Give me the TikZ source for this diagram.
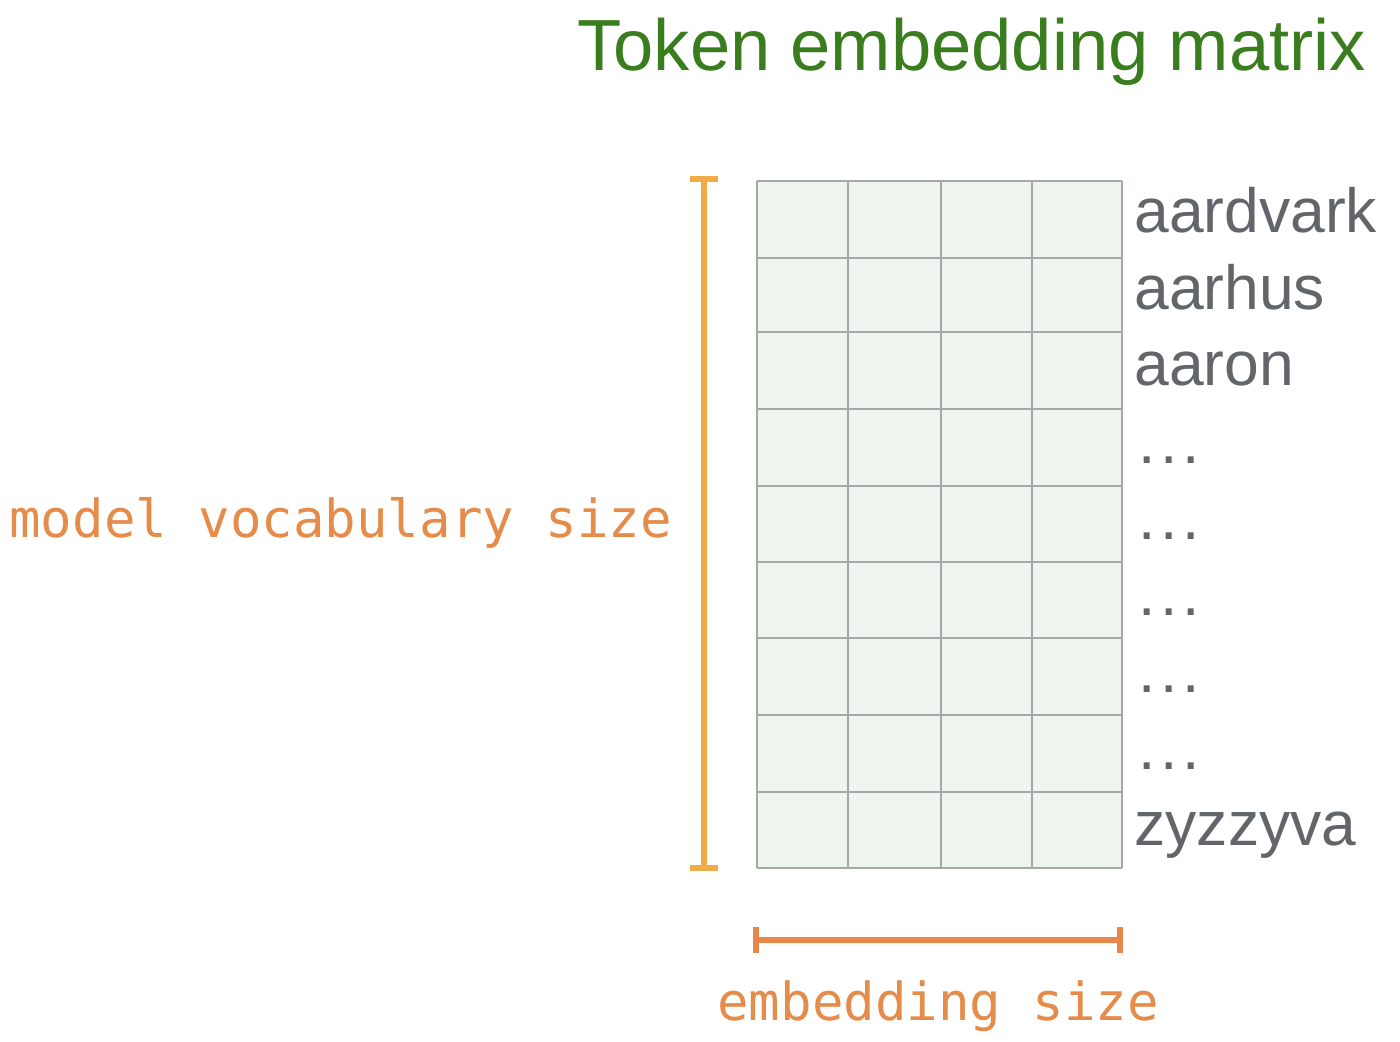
\documentclass[tikz,border=0pt]{standalone}
\usepackage{fontspec}
\setmainfont{Liberation Sans}
\newfontfamily\monofont{DejaVu Sans Mono}
\definecolor{titlegreen}{RGB}{58,125,30}
\definecolor{wordgrey}{RGB}{98,102,107}
\definecolor{gridline}{RGB}{165,168,165}
\definecolor{cellfill}{RGB}{237,245,238}
\definecolor{vbar}{RGB}{240,172,70}
\definecolor{hbar}{RGB}{234,135,72}
\definecolor{labelorange}{RGB}{230,140,75}
\newcommand{\rowdots}{.\hspace{2.4pt}.\hspace{2.4pt}.}
\begin{document}
\begin{tikzpicture}[x=0.5pt,y=-0.5pt,
  title/.style={inner sep=0pt,anchor=base west,text=titlegreen,font=\fontsize{36.2}{40}\selectfont},
  word/.style={inner sep=0pt,anchor=base west,text=wordgrey,font=\fontsize{31.2}{36}\selectfont},
  dimlabel/.style={inner sep=0pt,anchor=base west,text=labelorange,font=\monofont\fontsize{26.2}{30}\selectfont},
  bracketv/.style={draw=vbar,line width=2.6pt},
  bracketh/.style={draw=hbar,line width=2.6pt},
  gridln/.style={draw=gridline,line width=1pt}]
\useasboundingbox (0,0) rectangle (1400,1041);
% title
\node[title] (ttl) at (577,70) {Token embedding matrix};
% grid
\fill[cellfill] (757,181) rectangle (1122,868);
\foreach \xx in {757,848,941,1032,1122} \draw[gridln] (\xx,181) -- (\xx,868);
\foreach \yy in {181,258,332,409,486,562,638,715,792,868} \draw[gridln] (757,\yy) -- (1122,\yy);
% row labels
\node[word] (w1) at (1134,232) {aardvark};
\node[word] (w2) at (1134,309) {aarhus};
\node[word] (w3) at (1134,385) {aaron};
\node[word] (d1) at (1138,463) {\rowdots};
\node[word] (d2) at (1138,539) {\rowdots};
\node[word] (d3) at (1138,615) {\rowdots};
\node[word] (d4) at (1138,692) {\rowdots};
\node[word] (d5) at (1138,769) {\rowdots};
\node[word] (wz) at (1134,845) {zyzzyva};
% vertical bracket
\coordinate (vt) at (704,179);
\coordinate (vb) at (704,868);
\draw[bracketv] (vt) -- (vb);
\draw[bracketv] ([xshift=-7pt]vt) -- ([xshift=7pt]vt);
\draw[bracketv] ([xshift=-7pt]vb) -- ([xshift=7pt]vb);
% horizontal bracket
\coordinate (hl) at (756,940);
\coordinate (hr) at (1120,940);
\draw[bracketh] (hl) -- (hr);
\draw[bracketh] ([yshift=-6.3pt]hl) -- ([yshift=6.3pt]hl);
\draw[bracketh] ([yshift=-6.3pt]hr) -- ([yshift=6.3pt]hr);
% dimension labels
\node[dimlabel] (mvs) at (9,537) {model vocabulary size};
\node[dimlabel] (es) at (717,1020) {embedding size};
\end{tikzpicture}
\end{document}
